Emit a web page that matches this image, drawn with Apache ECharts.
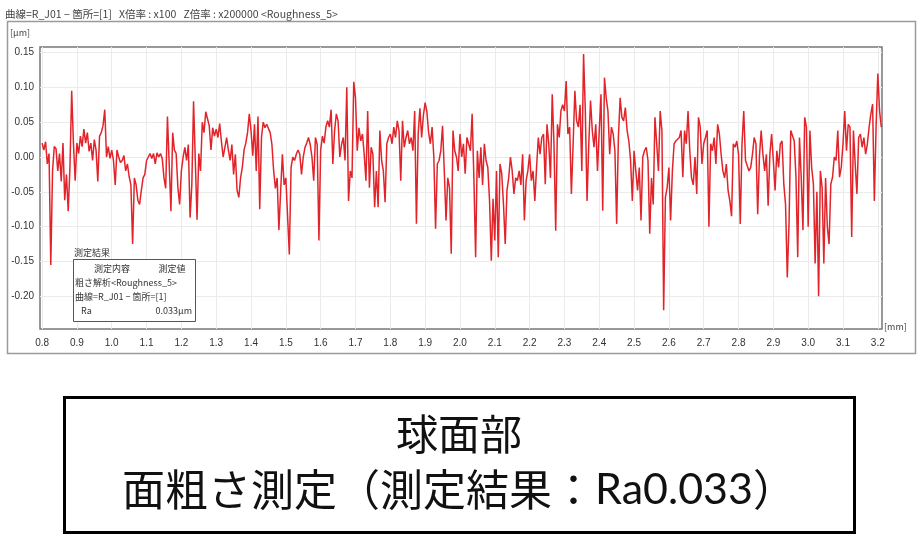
<!DOCTYPE html>
<html>
<head>
<meta charset="utf-8">
<script src="https://cdn.jsdelivr.net/npm/echarts@6/dist/echarts.min.js"></script>
<style>
  html, body { margin: 0; padding: 0; background: #fff; }
  #chart { width: 920px; height: 542px; }
</style>
</head>
<body>
<div id="chart"></div>
<script>
// profile sampled every 0.005 mm starting at 0.8 mm (values in um)
const xStart = 0.8;
const xStep = 0.005;

const profile_08_12 = [
  0.02, 0.01, 0.022, -0.01, 0.005, -0.155, -0.02, 0.015, 0.012, -0.02, 0.005, -0.035, 0.02, -0.062, -0.025, -0.078, -0.015, 0.095, 0.02, -0.034,
  0.02, 0.005, 0.03, 0.015, 0.04, 0.02, 0.035, 0.008, 0.02, -0.005, 0.025, 0.01, -0.035, 0.03, 0.035, 0.045, 0.068, 0.0, 0.015, -0.002,
  0.01, -0.005, -0.04, 0.01, 0.0, -0.008, -0.005, 0.002, -0.02, -0.01, -0.028, -0.04, -0.125, -0.03, -0.04, -0.062, -0.068, -0.048, -0.03, -0.025,
  -0.005, 0.0, 0.005, -0.002, 0.005, -0.01, 0.006, 0.0, 0.005, -0.002, -0.03, -0.045, 0.058, -0.01, -0.078, 0.035, 0.01, 0.005, -0.044, -0.068
];
const profile_12_16 = [
  -0.02, 0.0, 0.014, -0.005, 0.018, -0.087, -0.04, 0.08, -0.005, -0.09, 0.005, -0.02, 0.05, 0.035, 0.065, 0.055, 0.045, 0.01, 0.042, 0.03,
  0.04, 0.028, 0.048, 0.022, 0.0, 0.014, 0.028, 0.01, -0.005, 0.018, -0.025, 0.004, -0.048, -0.058, -0.03, -0.015, 0.01, 0.02, 0.035, 0.062,
  0.038, 0.002, 0.047, -0.02, 0.058, -0.075, 0.028, 0.05, 0.042, 0.047, 0.045, 0.035, 0.018, -0.02, -0.045, -0.03, -0.105, -0.05, 0.004, -0.04,
  -0.03, -0.085, -0.14, -0.015, 0.0, -0.005, 0.004, 0.01, 0.004, -0.025, 0.0, 0.014, 0.02, 0.028, 0.018, 0.0, -0.034, 0.028, 0.018, -0.12
];
const profile_16_20 = [
  0.01, 0.03, 0.02, 0.043, 0.052, 0.043, 0.068, -0.01, 0.038, 0.062, 0.052, 0.0, 0.018, 0.028, -0.005, 0.1, -0.063, -0.02, -0.03, 0.108,
  0.085, 0.009, 0.042, 0.023, 0.033, 0.004, -0.034, 0.066, -0.044, 0.014, 0.004, -0.072, -0.02, -0.072, 0.038, -0.005, -0.02, -0.065, 0.019, 0.028,
  0.033, 0.019, 0.043, 0.028, 0.052, 0.038, -0.034, 0.052, 0.014, 0.028, 0.038, 0.019, 0.028, 0.009, 0.066, -0.096, 0.033, 0.07, 0.028, 0.06,
  0.078, 0.065, 0.035, 0.019, 0.043, 0.0, -0.103, -0.01, -0.005, 0.009, 0.045, -0.02, -0.091, -0.03, -0.044, -0.139, 0.038, 0.009, 0.0, -0.02
];
const profile_20_24 = [
  0.033, 0.0, 0.019, -0.024, 0.028, 0.019, 0.009, 0.062, -0.03, -0.144, 0.009, -0.03, 0.014, -0.04, 0.019, -0.005, -0.015, -0.063, -0.149, -0.06,
  -0.12, -0.02, -0.144, -0.01, -0.024, -0.068, -0.125, -0.048, -0.03, 0.0, -0.02, -0.053, -0.03, -0.034, -0.02, -0.04, 0.004, -0.091, -0.034, -0.02,
  0.004, -0.034, -0.02, -0.063, -0.015, 0.028, 0.004, 0.028, 0.033, -0.039, 0.047, 0.019, -0.03, 0.09, 0.019, -0.106, 0.047, 0.028, 0.066, 0.075,
  0.066, 0.109, 0.033, 0.043, -0.053, 0.019, 0.095, 0.052, 0.043, 0.075, -0.02, 0.148, 0.066, -0.063, 0.019, 0.081, 0.038, 0.014, 0.047, -0.02
];
const profile_24_28 = [
  0.038, 0.09, -0.077, 0.114, 0.085, 0.066, 0.004, 0.043, 0.033, 0.009, -0.096, 0.028, 0.085, 0.057, 0.052, 0.071, 0.038, 0.023, -0.005, -0.063,
  0.009, -0.02, -0.048, -0.015, -0.091, 0.0, 0.009, 0.014, -0.005, -0.11, -0.03, -0.068, 0.057, 0.019, -0.02, 0.066, 0.038, -0.22, -0.058, -0.044,
  -0.015, -0.091, -0.02, 0.019, 0.023, 0.023, 0.028, 0.038, -0.029, 0.038, 0.019, 0.066, 0.009, -0.03, -0.04, 0.0, -0.053, 0.057, 0.043, -0.01,
  0.019, 0.028, 0.038, -0.1, 0.019, 0.009, 0.028, -0.01, 0.047, 0.033, 0.004, -0.02, -0.03, -0.01, -0.048, -0.063, -0.085, 0.019, 0.014, 0.023
];
const profile_28_32 = [
  0.004, -0.096, 0.019, 0.066, -0.005, -0.005, -0.02, -0.015, 0.004, 0.028, 0.019, -0.082, 0.0, 0.038, 0.004, -0.02, 0.004, -0.07, 0.004, 0.033,
  -0.005, -0.048, 0.009, -0.015, 0.019, 0.023, -0.039, -0.068, -0.173, -0.096, 0.038, 0.038, 0.023, -0.03, -0.144, 0.028, -0.029, -0.105, 0.057, 0.043,
  -0.1, 0.038, -0.015, -0.039, -0.153, -0.05, -0.2, -0.02, -0.044, -0.153, -0.03, -0.1, -0.125, -0.039, -0.029, 0.0, -0.005, 0.038, -0.029, -0.015,
  0.019, 0.066, 0.009, 0.047, 0.043, -0.115, 0.038, -0.01, -0.053, 0.028, 0.033, 0.014, 0.028, 0.004, 0.019, 0.043, 0.062, 0.076, -0.063, 0.043,
  0.12, 0.066, 0.043
];

const xTicks = [0.8, 0.9, 1.0, 1.1, 1.2, 1.3, 1.4, 1.5, 1.6, 1.7, 1.8, 1.9, 2.0, 2.1, 2.2, 2.3, 2.4, 2.5, 2.6, 2.7, 2.8, 2.9, 3.0, 3.1, 3.2];
const yTicks = [-0.20, -0.15, -0.10, -0.05, 0.00, 0.05, 0.10, 0.15];

const headerText = '曲線=R_J01 − 箇所=[1]   X倍率 : x100   Z倍率 : x200000 <Roughness_5>';
const resultTitle = '測定結果';
const resultRows = ['粗さ解析<Roughness_5>', '曲線=R_J01 − 箇所=[1]'];
const raLabel = 'Ra';
const raValue = '0.033μm';
const captionLine1 = '球面部';

const profile = [].concat(profile_08_12, profile_12_16, profile_16_20, profile_20_24, profile_24_28, profile_28_32);
const seriesData = profile.map((v, i) => [+(xStart + i * xStep).toFixed(3), v]);

const smallFont = '"Noto Sans CJK JP", "Liberation Sans", sans-serif';

const chart = echarts.init(document.getElementById('chart'));

chart.setOption({
  animation: false,
  backgroundColor: '#fff',
  grid: {
    left: 40, top: 47, width: 842, height: 282,
    show: true, backgroundColor: '#fff', borderColor: '#777', borderWidth: 1.5
  },
  xAxis: {
    type: 'value',
    min: 0.794, max: 3.212,
    axisLine: { show: false },
    axisTick: { show: false, customValues: xTicks },
    axisLabel: {
      customValues: xTicks,
      formatter: (v) => v.toFixed(1),
      color: '#333', fontSize: 10, fontFamily: 'Liberation Sans', margin: 9
    },
    splitLine: { show: true, lineStyle: { color: '#ebebeb', width: 1 } }
  },
  yAxis: {
    type: 'value',
    min: -0.247, max: 0.158,
    axisLine: { show: false },
    axisTick: { show: false, customValues: yTicks },
    axisLabel: {
      customValues: yTicks,
      formatter: (v) => v.toFixed(2),
      color: '#333', fontSize: 10, fontFamily: 'Liberation Sans', margin: 6
    },
    splitLine: { show: true, lineStyle: { color: '#ebebeb', width: 1 } }
  },
  series: [{
    type: 'line',
    data: seriesData,
    showSymbol: false,
    sampling: null,
    lineStyle: { color: '#e2242a', width: 1.5 },
    z: 3
  }],
  graphic: [
    // outer frame of the measurement window
    { type: 'rect', shape: { x: 7.5, y: 21.5, width: 908, height: 332 }, style: { fill: 'none', stroke: '#9a9a9a', lineWidth: 1.5 }, z: -1 },
    { type: 'text', x: 5, y: 14, style: { text: headerText, font: '10.5px ' + smallFont, fill: '#444', verticalAlign: 'middle' } },
    { type: 'text', x: 10, y: 33, style: { text: '[μm]', font: '9px ' + smallFont, fill: '#444', verticalAlign: 'middle' } },
    { type: 'text', x: 884, y: 327, style: { text: '[mm]', font: '9px ' + smallFont, fill: '#444', verticalAlign: 'middle' } },
    // result box
    { type: 'text', x: 74, y: 253, style: { text: resultTitle, font: '9px ' + smallFont, fill: '#333', verticalAlign: 'middle' }, z: 10 },
    { type: 'rect', shape: { x: 73.5, y: 259.5, width: 122, height: 62 }, style: { fill: '#fff', stroke: '#555', lineWidth: 1 }, z: 10 },
    { type: 'text', x: 112, y: 269, style: { text: '測定内容', font: '9px ' + smallFont, fill: '#333', align: 'center', verticalAlign: 'middle' }, z: 11 },
    { type: 'text', x: 172, y: 269, style: { text: '測定値', font: '9px ' + smallFont, fill: '#333', align: 'center', verticalAlign: 'middle' }, z: 11 },
    { type: 'text', x: 75, y: 283, style: { text: resultRows[0], font: '9px ' + smallFont, fill: '#333', verticalAlign: 'middle' }, z: 11 },
    { type: 'text', x: 75, y: 297, style: { text: resultRows[1], font: '9px ' + smallFont, fill: '#333', verticalAlign: 'middle' }, z: 11 },
    { type: 'text', x: 81, y: 311, style: { text: raLabel, font: '9px ' + smallFont, fill: '#333', verticalAlign: 'middle' }, z: 11 },
    { type: 'text', x: 192, y: 311, style: { text: raValue, font: '9px ' + smallFont, fill: '#333', align: 'right', verticalAlign: 'middle' }, z: 11 },
    // caption box below the chart
    { type: 'rect', shape: { x: 64.5, y: 397.5, width: 790, height: 135 }, style: { fill: 'none', stroke: '#000', lineWidth: 3 } },
    { type: 'text', x: 459, y: 434, style: { text: captionLine1, font: '42px "Noto Sans CJK JP"', fill: '#111', align: 'center', verticalAlign: 'middle' } },
    {
      type: 'text', x: 459, y: 490,
      style: {
        text: '{a|面粗さ測定（測定結果：}{b|Ra0.033}{a|）}',
        align: 'center', verticalAlign: 'middle',
        rich: {
          a: { font: '43px "Noto Sans CJK JP"', fill: '#111' },
          b: { font: '43px "Lato", "Open Sans", sans-serif', fill: '#111' }
        }
      }
    }
  ]
});
</script>
</body>
</html>
